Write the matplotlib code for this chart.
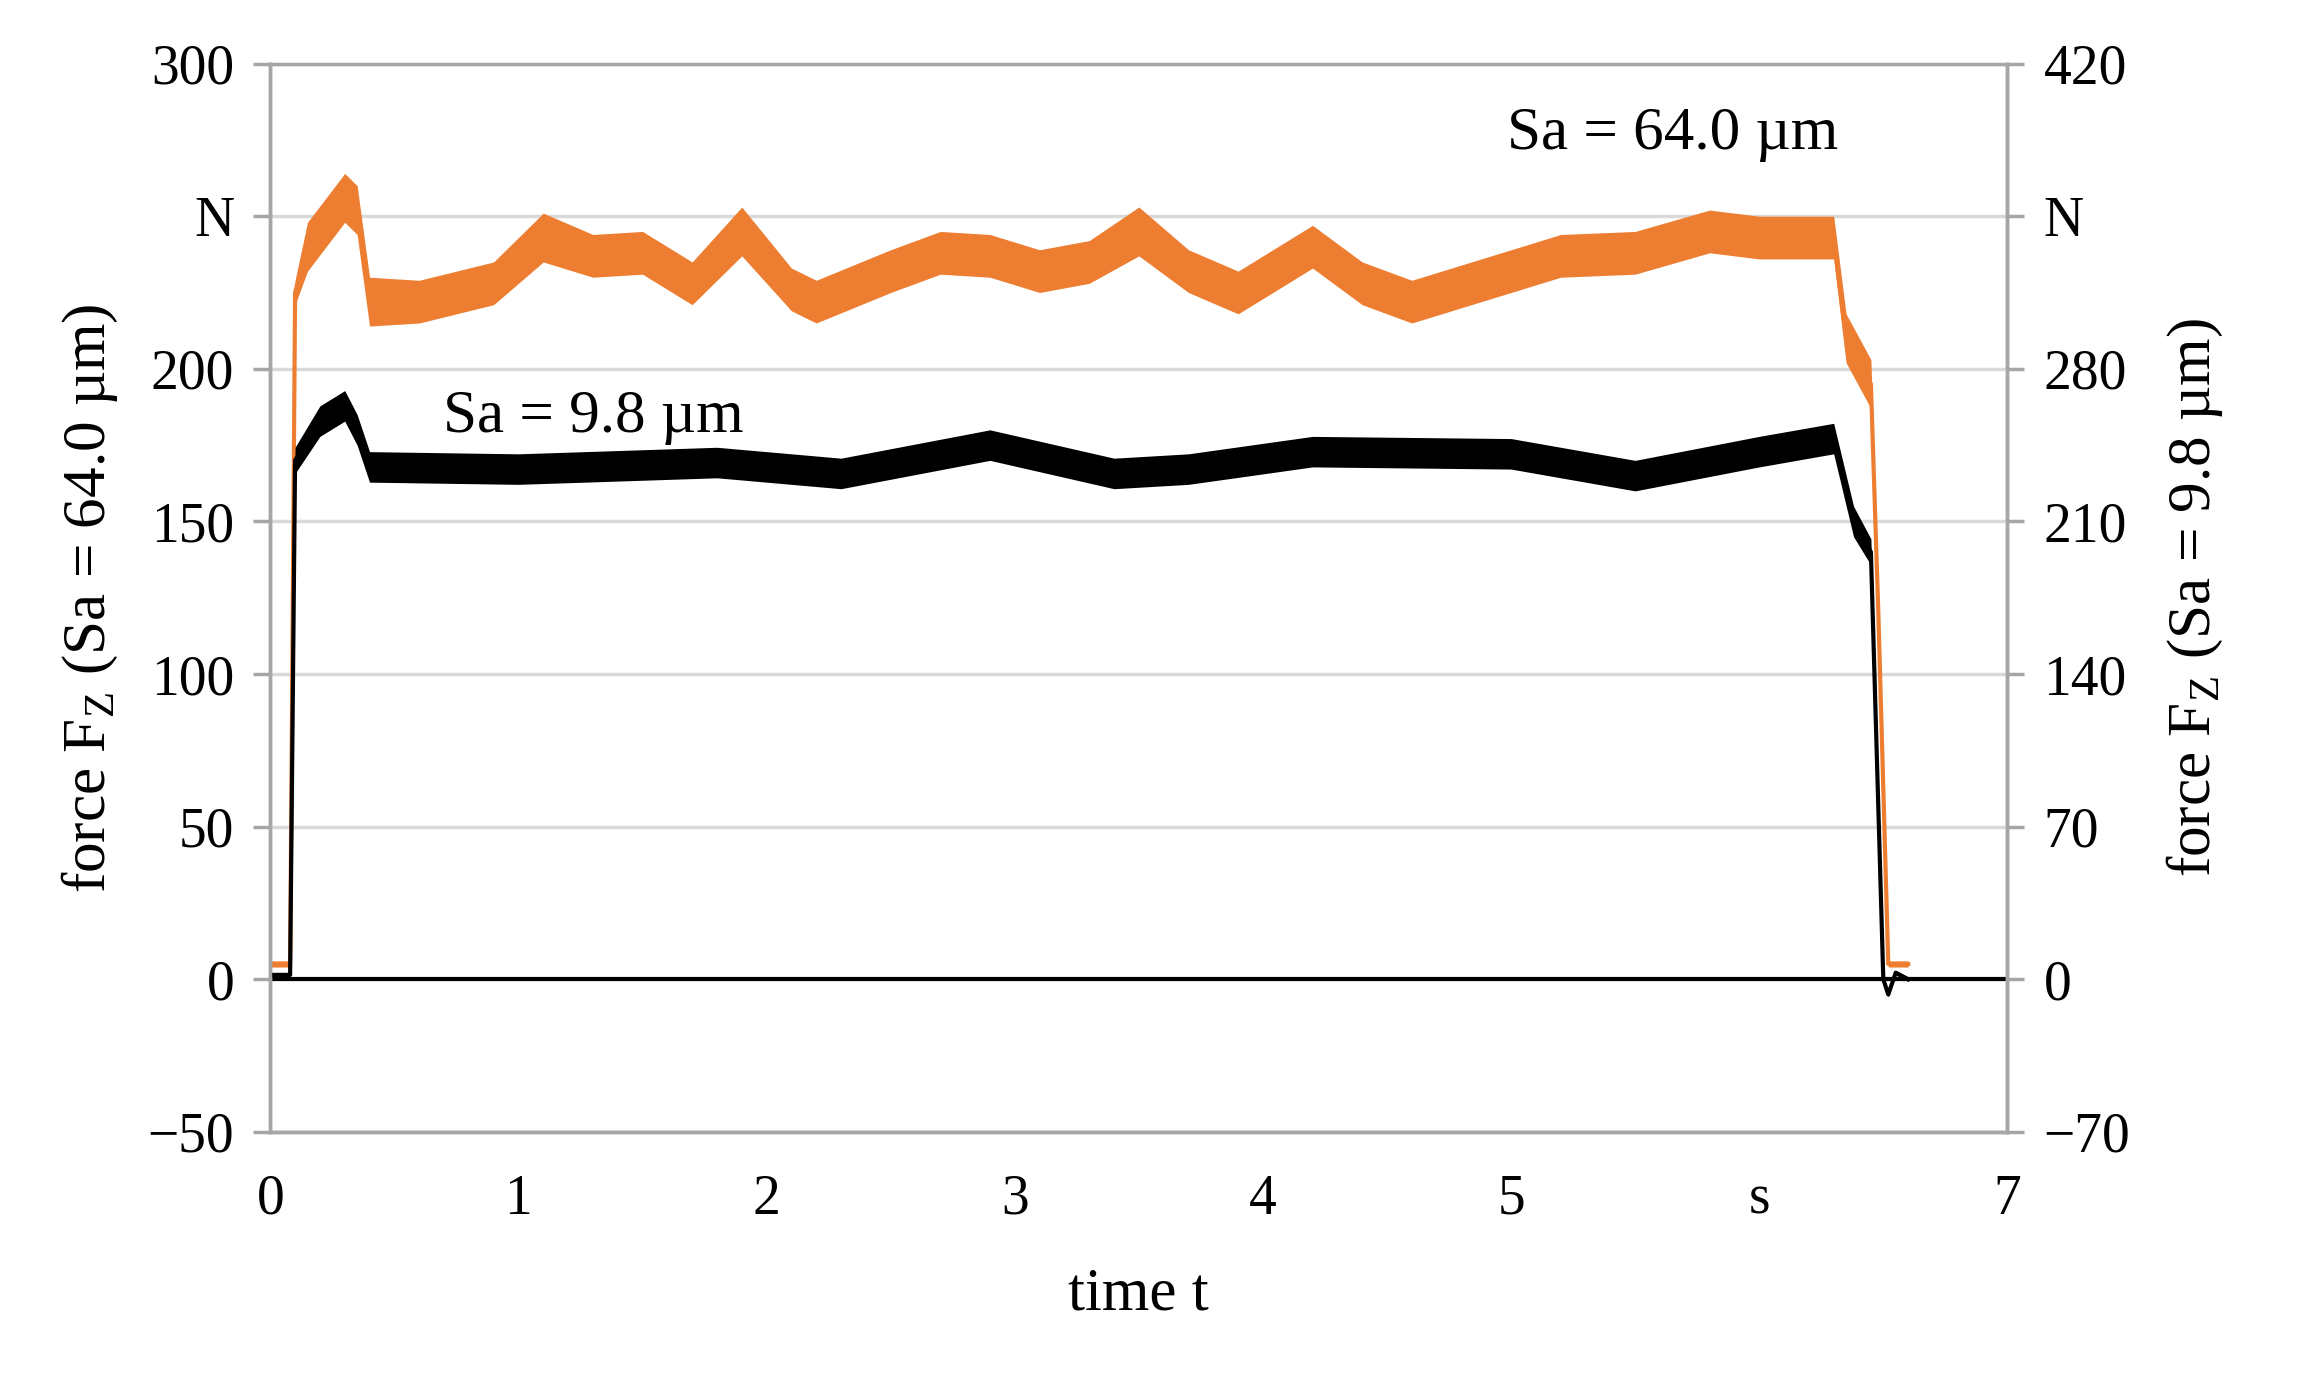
import numpy as np
import matplotlib
matplotlib.use('Agg')
import matplotlib.pyplot as plt

plt.rcParams['font.family'] = ['Liberation Serif', 'DejaVu Serif']

# Sa = 64.0 um, left axis (N): time, band centre, band half-width
t_or = [0.0, 0.08, 0.10, 0.15, 0.30, 0.35, 0.40, 0.60, 0.90, 1.10, 1.30, 1.50, 1.70, 1.90, 2.10, 2.20,
        2.50, 2.70, 2.90, 3.10, 3.30, 3.50, 3.70, 3.90, 4.20, 4.40, 4.60, 5.00, 5.20, 5.50, 5.80, 6.00,
        6.30, 6.35, 6.45, 6.48, 6.52, 6.60]
f_or = [5, 5, 225, 240, 256, 252, 222, 222, 228, 243, 237, 238, 228, 245, 226, 222,
        232, 238, 237, 232, 235, 245, 232, 225, 240, 228, 222, 232, 237, 238, 245, 243,
        243, 210, 195, 120, 5, 5]
w_or = [1, 1, 4, 8, 8, 8, 8, 7, 7, 8, 7, 7, 7, 8, 7, 7,
        7, 7, 7, 7, 7, 8, 7, 7, 7, 7, 7, 7, 7, 7, 7, 7,
        7, 8, 8, 5, 1, 1]

# Sa = 9.8 um, right axis (N)
t_bk = [0.0, 0.08, 0.10, 0.20, 0.30, 0.35, 0.40, 1.00, 1.80, 2.30, 2.90, 3.40, 3.70, 4.20, 5.00, 5.50,
        6.00, 6.30, 6.38, 6.45, 6.50, 6.52, 6.55, 6.60]
f_bk = [2, 2, 238, 256, 263, 252, 235, 234, 237, 232, 245, 232, 234, 242, 241, 231,
        242, 248, 210, 196, 0, -7, 3, 0]
w_bk = [1, 1, 6, 7, 7, 7, 7, 7, 7, 7, 7, 7, 7, 7, 7, 7,
        7, 7, 7, 6, 1, 1, 1, 1]

ORANGE, GRID = '#ed7d31', '#d9d9d9'

fig = plt.figure(figsize=(23.1, 13.82), dpi=100)
ax = fig.add_axes([0.117, 0.181, 0.752, 0.773])
ax2 = ax.twinx()

to, fo, wo = np.array(t_or), np.array(f_or), np.array(w_or)
ax.fill_between(to, fo - wo, fo + wo, color=ORANGE, lw=0)
ax.plot(to, fo, color=ORANGE, lw=3)
tb, fb, wb = np.array(t_bk), np.array(f_bk), np.array(w_bk)
ax2.fill_between(tb, fb - wb, fb + wb, color='black', lw=0)
ax2.plot(tb, fb, color='black', lw=3)

ax.set_xlim(0, 7); ax.set_ylim(-50, 300)
ax2.set_ylim(-70, 420)
ax.set_yticks(range(-50, 301, 50))
ax.set_yticklabels(['\u221250', '0', '50', '100', '150', '200', 'N', '300'])
ax2.set_yticks(range(-70, 421, 70))
ax2.set_yticklabels(['\u221270', '0', '70', '140', '210', '280', 'N', '420'])
ax.set_xticks(range(8))
ax.set_xticklabels(['0', '1', '2', '3', '4', '5', 's', '7'])
ax.grid(axis='y', color=GRID, lw=2.5)
ax.set_axisbelow(True)
ax.axhline(0, color='black', lw=3)
for a in (ax, ax2):
    for s in a.spines.values():
        s.set_color('#a6a6a6'); s.set_linewidth(2.5)
    a.tick_params(labelsize=40, color='#a6a6a6', width=2.5, length=12, pad=14)
ax.tick_params(axis='x', length=0, pad=30)
ax2.spines['top'].set_visible(False)

ax.set_xlabel('time t', fontsize=44, labelpad=30)
ax.set_ylabel('force F$_\\mathregular{Z}$ (Sa = 64.0 \u00b5m)', fontsize=44, labelpad=20)
ax2.set_ylabel('force F$_\\mathregular{Z}$ (Sa = 9.8 \u00b5m)', fontsize=44, labelpad=25)
ax.text(5.65, 277, 'Sa = 64.0 \u00b5m', fontsize=44, ha='center', va='center')
ax.text(1.3, 184, 'Sa = 9.8 \u00b5m', fontsize=44, ha='center', va='center')

fig.savefig('out.png', dpi=100)
